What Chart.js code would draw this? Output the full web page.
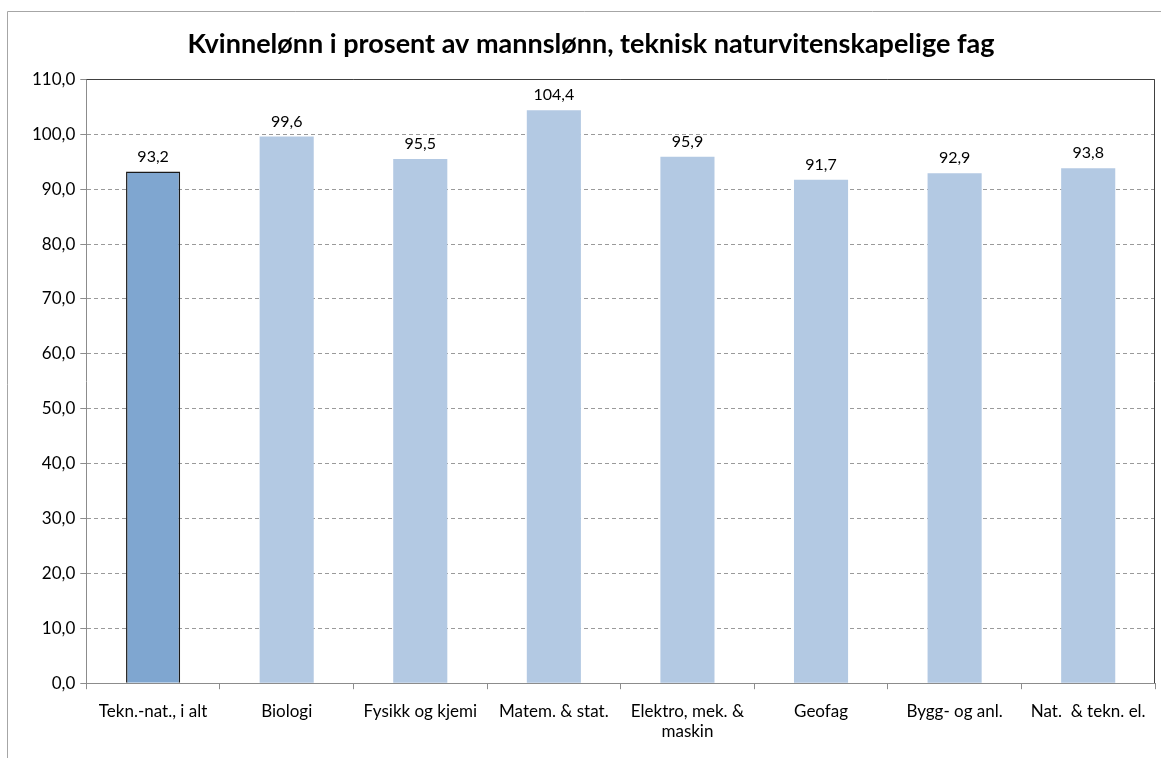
<!DOCTYPE html>
<html>
<head>
<meta charset="utf-8">
<script src="https://cdn.jsdelivr.net/npm/chart.js@4"></script>
<style>
  html, body { margin: 0; padding: 0; background: #ffffff; }
  #wrap { width: 1161px; height: 758px; position: relative; }
</style>
</head>
<body>
<div id="wrap"><canvas id="my-chart" width="1161" height="758"></canvas></div>
<script>
'use strict';

let categories = ['Tekn.-nat., i alt', 'Biologi', 'Fysikk og kjemi', 'Matem. & stat.',
  ['Elektro, mek. &', 'maskin'], 'Geofag', 'Bygg- og anl.', 'Nat.  & tekn. el.'];
let values = [93.2, 99.6, 95.5, 104.4, 95.9, 91.7, 92.9, 93.8];
let yTicks = [0, 10, 20, 30, 40, 50, 60, 70, 80, 90, 100, 110];

let fontFamily = 'Lato, "Open Sans", sans-serif';

function fmt(v) {
  return v.toFixed(1).replace('.', ',');
}

// frame round the whole chart and top/right edge of the plot area
let framePlugin = {
  id: 'frame',
  beforeDraw(chart) {
    let ctx = chart.ctx;
    ctx.save();
    ctx.strokeStyle = '#a6a6a6';
    ctx.lineWidth = 1;
    ctx.beginPath();
    ctx.moveTo(7.5, chart.height);
    ctx.lineTo(7.5, 11.5);
    ctx.lineTo(chart.width, 11.5);
    ctx.stroke();
    ctx.restore();
  },
  afterDatasetsDraw(chart) {
    let a = chart.chartArea;
    let ctx = chart.ctx;
    ctx.save();
    ctx.strokeStyle = '#404040';
    ctx.lineWidth = 1;
    ctx.beginPath();
    ctx.moveTo(Math.round(a.left) + 0.5, Math.round(a.top) + 0.5);
    ctx.lineTo(Math.round(a.right) - 0.5, Math.round(a.top) + 0.5);
    ctx.lineTo(Math.round(a.right) - 0.5, Math.round(a.bottom));
    ctx.stroke();
    ctx.restore();
  }
};

// value labels above the bars
let labelPlugin = {
  id: 'valueLabels',
  afterDatasetsDraw(chart) {
    let ctx = chart.ctx;
    let meta = chart.getDatasetMeta(0);
    ctx.save();
    ctx.font = '16px ' + fontFamily;
    ctx.fillStyle = '#000000';
    ctx.textAlign = 'center';
    ctx.textBaseline = 'bottom';
    meta.data.forEach(function(bar, i) {
      ctx.fillText(fmt(values[i]), bar.x, bar.y - 7);
    });
    ctx.restore();
  }
};

let canvasElement = document.getElementById('my-chart');

let barColors = [];
let borderColors = [];
let borderWidths = [];
for (let i = 0; i < values.length; i++) {
  barColors.push(i === 0 ? '#7fa6d0' : '#b3c9e3');
  borderColors.push(i === 0 ? '#1a1a1a' : 'rgba(0,0,0,0)');
  borderWidths.push(i === 0 ? 1.5 : 0);
}

let chartObj = {
  type: 'bar',
  data: {
    labels: categories,
    datasets: [{
      data: values,
      backgroundColor: barColors,
      borderColor: borderColors,
      borderWidth: borderWidths,
      barPercentage: 0.405,
      categoryPercentage: 1.0
    }]
  },
  options: {
    responsive: false,
    animation: false,
    layout: {
      padding: { left: 27, right: 6, top: 14, bottom: 4 }
    },
    plugins: {
      legend: { display: false },
      tooltip: { enabled: false },
      title: {
        display: true,
        text: 'Kvinnelønn i prosent av mannslønn, teknisk naturvitenskapelige fag',
        color: '#000000',
        font: { family: fontFamily, size: 27, weight: 'bold' },
        padding: { top: 14, bottom: 19 }
      }
    },
    scales: {
      x: {
        offset: true,
        grid: {
          display: true,
          offset: true,
          drawOnChartArea: false,
          drawTicks: true,
          tickLength: 6,
          color: '#8c8c8c'
        },
        border: { display: true, color: '#8c8c8c', width: 1 },
        ticks: {
          color: '#000000',
          font: { family: fontFamily, size: 17 },
          padding: 12,
          maxRotation: 0,
          autoSkip: false
        }
      },
      y: {
        min: 0,
        max: 110,
        afterBuildTicks(axis) {
          axis.ticks = yTicks.map(function(v) { return { value: v }; });
        },
        grid: {
          color: '#9a9a9a',
          tickColor: '#8c8c8c',
          tickLength: 6,
          drawTicks: true,
          tickBorderDash: [],
          lineWidth: 1
        },
        // in Chart.js v4 the dash of the grid lines lives under border
        border: { display: true, color: '#8c8c8c', width: 1, dash: [4, 3] },
        ticks: {
          color: '#000000',
          font: { family: fontFamily, size: 17 },
          padding: 5,
          callback: function(v) { return fmt(v); }
        }
      }
    }
  },
  plugins: [framePlugin, labelPlugin]
};

new Chart(canvasElement, chartObj);//eslint-disable-line
</script>
</body>
</html>
